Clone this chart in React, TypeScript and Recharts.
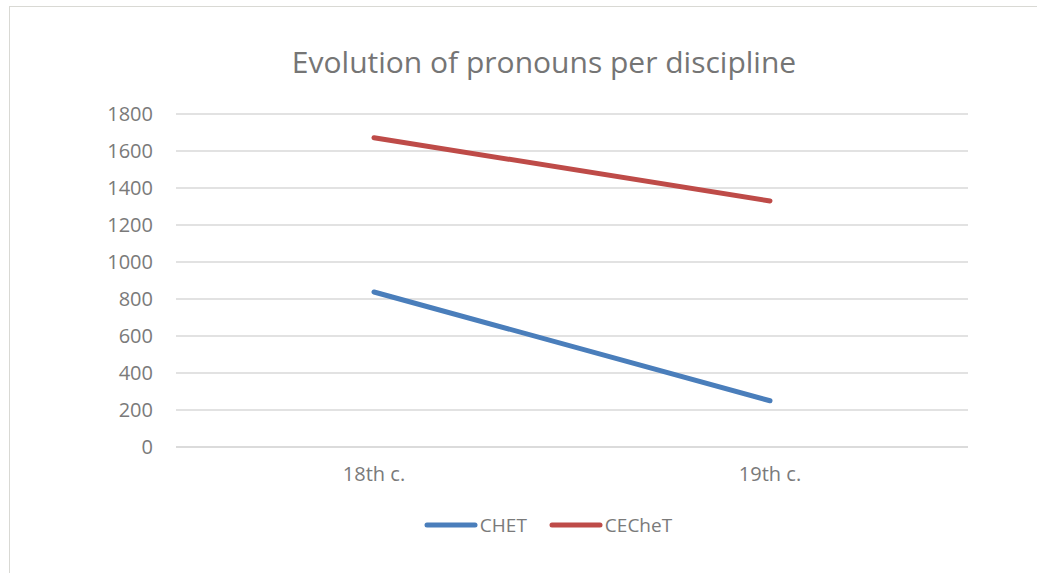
import React from 'react';
import { LineChart, Line, XAxis, YAxis, CartesianGrid } from 'recharts';

const categories = ['18th c.', '19th c.'];
const chetValues = [838, 250];
const cechetValues = [1672, 1330];
const yTicks = [0, 200, 400, 600, 800, 1000, 1200, 1400, 1600, 1800];
const seriesNames = ['CHET', 'CECheT'];
const seriesColors = ['#4A7EBB', '#BE4B48'];

const data = categories.map((c, i) => ({ name: c, CHET: chetValues[i], CECheT: cechetValues[i] }));

const FONT = '"Open Sans", "Noto Sans", sans-serif';
const TEXT = '#7a7a7a';

export default function App() {
  return (
    <div style={{ position: 'absolute', left: 0, top: 0, width: 1037, height: 573, background: '#fff', overflow: 'hidden' }}>
      <div style={{ position: 'absolute', left: 9, top: 6, width: 1100, height: 700, borderTop: '1px solid #d9d9d4', borderLeft: '1px solid #d9d9d4' }} />
      <div style={{ position: 'absolute', left: 0, top: 42, width: 1088, textAlign: 'center', fontFamily: FONT, fontSize: 30, color: '#757575', lineHeight: '40px' }}>
        Evolution of pronouns per discipline
      </div>
      <div style={{ position: 'absolute', left: 0, top: 0 }}>
        <LineChart width={1037} height={573} data={data} margin={{ top: 114, right: 69, bottom: 86, left: 116 }}>
          <CartesianGrid vertical={false} stroke="#d9d9d9" strokeWidth={1.3} />
          <XAxis
            dataKey="name"
            scale="band"
            axisLine={{ stroke: '#d9d9d9', strokeWidth: 1.3 }}
            tickLine={false}
            tickSize={0}
            tickMargin={20}
            tick={{ fill: TEXT, fontSize: 20, fontFamily: FONT }}
            height={40}
          />
          <YAxis
            domain={[0, 1800]}
            ticks={yTicks}
            axisLine={false}
            tickLine={false}
            tickSize={0}
            tickMargin={23}
            width={60}
            tick={{ fill: TEXT, fontSize: 20, fontFamily: FONT }}
            interval={0}
          />
          <Line dataKey="CHET" stroke={seriesColors[0]} strokeWidth={5} strokeLinecap="round" dot={false} activeDot={false} isAnimationActive={false} />
          <Line dataKey="CECheT" stroke={seriesColors[1]} strokeWidth={5} strokeLinecap="round" dot={false} activeDot={false} isAnimationActive={false} />
        </LineChart>
      </div>
      <div style={{ position: 'absolute', left: 0, top: 511, width: 1096, display: 'flex', justifyContent: 'center', alignItems: 'center', fontFamily: FONT, fontSize: 19, color: TEXT, lineHeight: '28px' }}>
        {seriesNames.map((n, i) => (
          <div key={n} style={{ display: 'flex', alignItems: 'center', marginRight: i === 0 ? 22 : 0 }}>
            <svg width={54} height={8} style={{ marginRight: 2 }}>
              <line x1={3} y1={4} x2={51} y2={4} stroke={seriesColors[i]} strokeWidth={5} strokeLinecap="round" />
            </svg>
            <span>{n}</span>
          </div>
        ))}
      </div>
    </div>
  );
}
